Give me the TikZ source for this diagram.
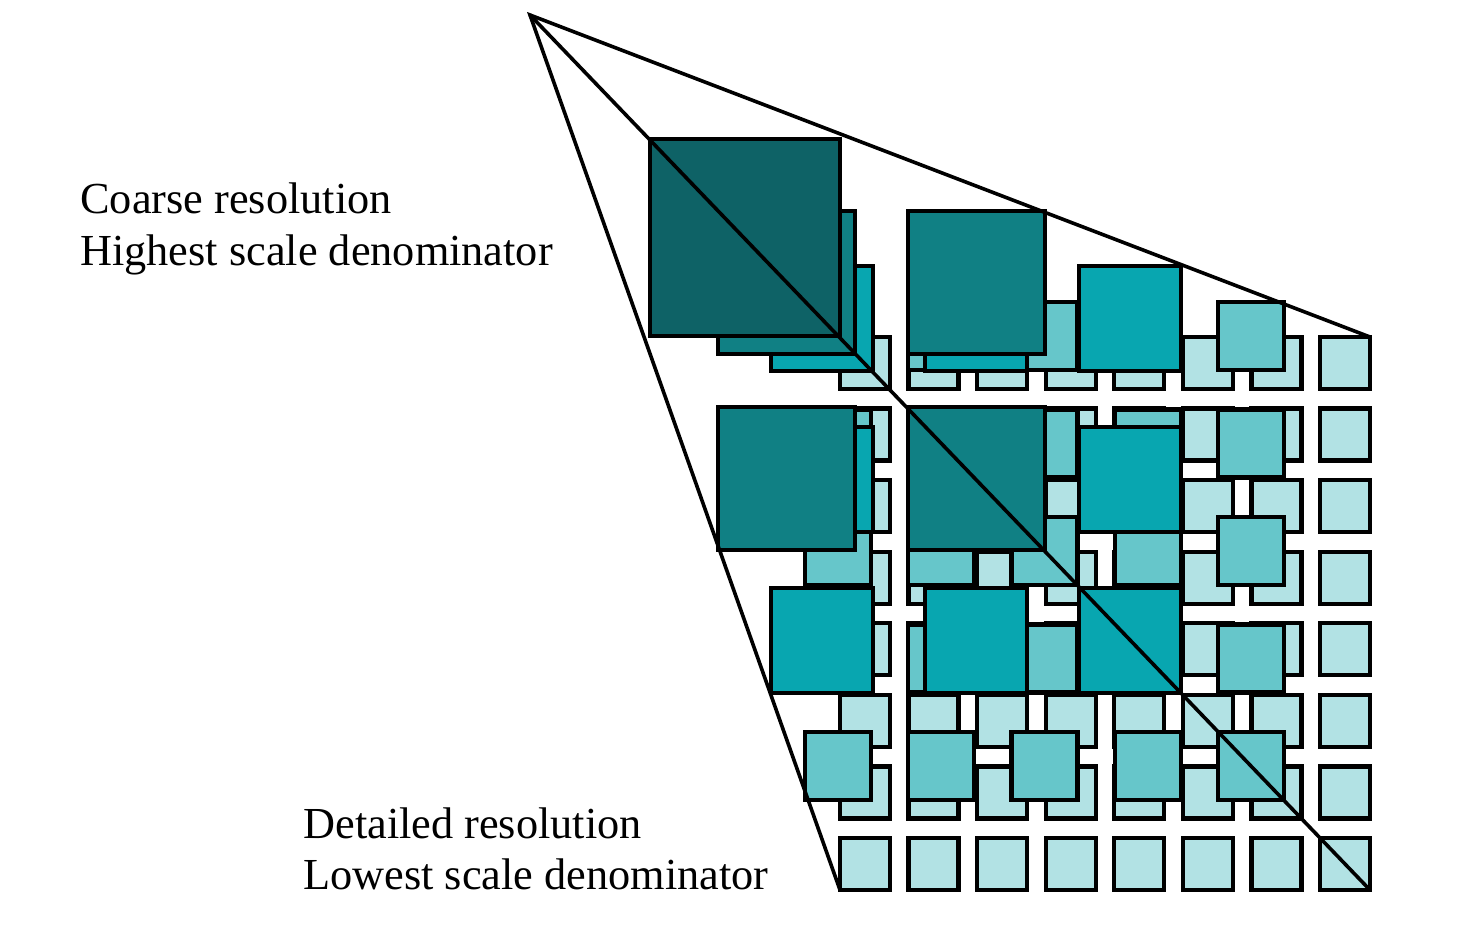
\documentclass[tikz,border=0pt]{standalone}
\usepackage{fontspec}
\setmainfont{Liberation Serif}
\definecolor{cA}{HTML}{B2E2E4}
\definecolor{cB}{HTML}{66C6CA}
\definecolor{cC}{HTML}{08A6B0}
\definecolor{cD}{HTML}{108084}
\definecolor{cE}{HTML}{0E6266}
\tikzset{
  tile/.style={draw=black, line width=2.2pt, miter limit=10},
  ray/.style={draw=black, line width=1.8pt, line cap=round},
  lbl/.style={anchor=base west, inner sep=0pt, font=\fontsize{22.15}{26}\selectfont}
}
\begin{document}
\begin{tikzpicture}[x=0.5pt,y=-0.5pt]
\useasboundingbox (0,0) rectangle (1468,948);
\fill[white] (0,0) rectangle (1468,948);
% level 0: 8x8
\foreach \i in {0,...,7}{
  \foreach \j in {0,...,7}{
    \filldraw[tile, fill=cA] ({840+\i*68.57},{337+\j*71.57}) rectangle ++(50,52);
  }
}
% level 1: 5x5
\foreach \i in {0,...,4}{
  \foreach \j in {0,...,4}{
    \filldraw[tile, fill=cB] ({805+\i*103.25},{302+\j*107.5}) rectangle ++(66,68);
  }
}
% level 2: 3x3
\foreach \i in {0,...,2}{
  \foreach \j in {0,...,2}{
    \filldraw[tile, fill=cC] ({771+\i*154},{266+\j*161}) rectangle ++(102,105);
  }
}
% level 3: 2x2
\foreach \i in {0,1}{
  \foreach \j in {0,1}{
    \filldraw[tile, fill=cD] ({718+\i*190},{211+\j*196}) rectangle ++(137,143);
  }
}
% level 4: 1x1
\filldraw[tile, fill=cE] (650,139) rectangle (840,336);
% rays
\coordinate (apex) at (530,15);
\coordinate (tr) at (1370,337);
\coordinate (bl) at (840,890);
\coordinate (br) at (1370,890);
\draw[ray] (tr) -- (apex) -- (bl);
\draw[ray] (apex) -- (br);
% labels
\node[lbl] (coarse1) at (80,213) {Coarse resolution};
\node[lbl] (coarse2) at (80,265) {Highest scale denominator};
\node[lbl] (detail1) at (303,838) {Detailed resolution};
\node[lbl] (detail2) at (303,889) {Lowest scale denominator};
\end{tikzpicture}
\end{document}
